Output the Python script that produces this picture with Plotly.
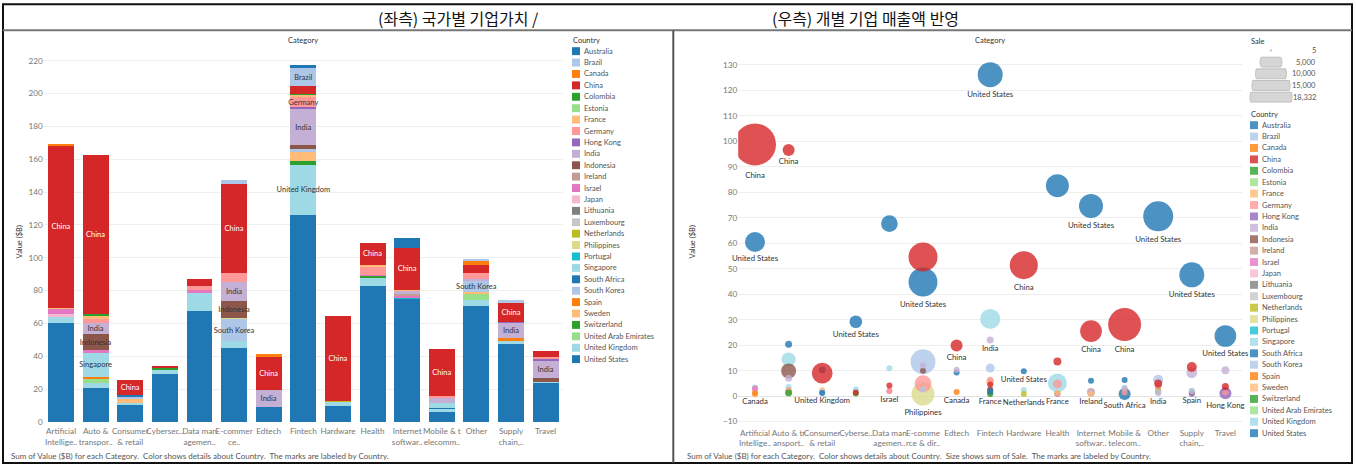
import math
import plotly.graph_objects as go

W, H = 1356, 470

categories = [
    "Artificial intelligence", "Auto & transportation", "Consumer & retail",
    "Cybersecurity", "Data management & analytics", "E-commerce & direct-to-consumer",
    "Edtech", "Fintech", "Hardware", "Health", "Internet software & services",
    "Mobile & telecommunications", "Other", "Supply chain, logistics, & delivery", "Travel",
]
bar_ticks = [
    "Artificial<br>Intellige..", "Auto &<br>transpor..", "Consumer<br>& retail", "Cybersec..",
    "Data man<br>agemen..", "E-commer<br>ce..", "Edtech", "Fintech", "Hardware", "Health",
    "Internet<br>softwar..", "Mobile & t<br>elecomm..", "Other", "Supply<br>chain,..", "Travel",
]
bubble_ticks = [
    "Artificial<br>Intellige..", "Auto & tr<br>ansport..", "Consumer<br>& retail", "Cyberse..",
    "Data man<br>agemen..", "E-comme<br>rce & dir..", "Edtech", "Fintech", "Hardware", "Health",
    "Internet<br>softwar..", "Mobile &<br>telecom..", "Other", "Supply<br>chain,..", "Travel",
]

countries = [
    "Australia", "Brazil", "Canada", "China", "Colombia", "Estonia", "France", "Germany",
    "Hong Kong", "India", "Indonesia", "Ireland", "Israel", "Japan", "Lithuania", "Luxembourg",
    "Netherlands", "Philippines", "Portugal", "Singapore", "South Africa", "South Korea",
    "Spain", "Sweden", "Switzerland", "United Arab Emirates", "United Kingdom", "United States",
]
country_colors = [
    "#1f77b4", "#aec7e8", "#ff7f0e", "#d62728", "#2ca02c", "#98df8a", "#ffbb78", "#ff9896",
    "#9467bd", "#c5b0d5", "#8c564b", "#c49c94", "#e377c2", "#f7b6d2", "#7f7f7f", "#c7c7c7",
    "#bcbd22", "#dbdb8d", "#17becf", "#9edae5", "#1f77b4", "#aec7e8", "#ff7f0e", "#ffbb78",
    "#2ca02c", "#98df8a", "#9edae5", "#1f77b4",
]

# (country, value $B, sale) per category
ai = [("United States", 60.5, 4160), ("United Kingdom", 3.4, 60), ("Japan", 2.0, 40),
      ("Israel", 3.0, 60), ("France", 0.6, 20), ("China", 98.8, 18332), ("Canada", 1.1, 150)]
auto = [("United States", 20.4, 510), ("United Kingdom", 3.6, 200), ("Spain", 1.6, 60),
        ("Singapore", 14.4, 2040), ("Israel", 1.6, 100), ("Indonesia", 9.9, 2340),
        ("India", 7.0, 510), ("Germany", 2.4, 150), ("France", 1.6, 80),
        ("United Arab Emirates", 2.0, 120), ("Colombia", 1.2, 500), ("China", 96.6, 1500)]
consumer = [("United States", 10.3, 500), ("United Kingdom", 1.4, 40), ("Sweden", 2.3, 60),
            ("South Korea", 1.5, 50), ("South Africa", 1.2, 370), ("China", 9.0, 4460)]
cyber = [("United States", 29.2, 1680), ("United Kingdom", 2.6, 60), ("Switzerland", 1.0, 60),
         ("China", 1.4, 80)]
data_mgmt = [("United States", 67.7, 2900), ("Singapore", 10.9, 20), ("Israel", 2.0, 60),
             ("Germany", 2.0, 40), ("China", 4.2, 200)]
ecommerce = [("United States", 44.8, 8700), ("United Kingdom", 4.4, 100), ("South Korea", 13.5, 6500),
             ("Philippines", 0.8, 5500), ("Indonesia", 10.0, 170), ("India", 12.0, 170),
             ("Germany", 4.9, 3000), ("China", 54.6, 8770), ("Brazil", 2.6, 60)]
edtech = [("United States", 9.3, 370), ("India", 10.4, 300), ("China", 19.9, 1500), ("Canada", 1.6, 40)]
fintech = [("United States", 126.2, 6500), ("United Kingdom", 30.3, 4200), ("Switzerland", 2.2, 374),
           ("Sweden", 5.6, 665), ("South Korea", 1.6, 100), ("Indonesia", 2.6, 60), ("India", 22.0, 510),
           ("Hong Kong", 1.0, 40), ("Germany", 6.4, 150), ("France", 1.1, 60), ("Colombia", 0.8, 40),
           ("China", 4.6, 100), ("Brazil", 11.0, 842), ("Australia", 1.8, 60)]
hardware = [("United States", 9.8, 374), ("United Kingdom", 2.4, 60), ("Netherlands", 0.8, 40),
            ("China", 51.4, 8150)]
health = [("United States", 82.6, 5500), ("United Kingdom", 5.2, 3750), ("Switzerland", 1.0, 40),
          ("Israel", 0.8, 40), ("Germany", 4.8, 842), ("France", 1.2, 60), ("China", 13.6, 665)]
internet = [("United States", 74.6, 6000), ("Portugal", 1.0, 40), ("Ireland", 1.6, 665),
            ("Israel", 1.0, 40), ("India", 1.6, 60), ("France", 0.8, 40), ("China", 25.5, 4900),
            ("Australia", 6.0, 260)]
mobile = [("United States", 6.3, 260), ("United Kingdom", 1.4, 40), ("South Africa", 0.8, 1500),
          ("Singapore", 3.2, 60), ("India", 3.0, 60), ("Germany", 1.4, 40), ("China", 28.1, 11300)]
other = [("United States", 70.6, 9350), ("United Kingdom", 3.6, 100), ("United Arab Emirates", 3.6, 100),
         ("Sweden", 1.4, 60), ("South Korea", 6.4, 1039), ("India", 1.2, 200), ("Germany", 4.0, 300),
         ("China", 5.0, 665), ("Canada", 2.0, 150), ("Brazil", 1.6, 60)]
supply = [("United States", 47.6, 6500), ("United Kingdom", 2.0, 374), ("Spain", 1.4, 60),
          ("India", 9.2, 1250), ("Hong Kong", 0.8, 40), ("China", 11.4, 1039), ("Brazil", 2.0, 60)]
travel = [("United States", 23.6, 4900), ("United Kingdom", 1.0, 40), ("Indonesia", 2.4, 60),
          ("India", 10.2, 665), ("Hong Kong", 1.1, 1500), ("Germany", 1.4, 60), ("China", 3.8, 509)]

by_category = [ai, auto, consumer, cyber, data_mgmt, ecommerce, edtech, fintech, hardware,
               health, internet, mobile, other, supply, travel]

# segments / bubbles that carry a country label
bar_labels = [
    (0, "China"), (1, "China"), (1, "India"), (1, "Indonesia"), (1, "Singapore"), (2, "China"),
    (5, "China"), (5, "India"), (5, "Indonesia"), (5, "South Korea"), (6, "China"), (6, "India"),
    (7, "United Kingdom"), (7, "India"), (7, "Germany"), (7, "Brazil"), (8, "China"), (9, "China"),
    (10, "China"), (11, "China"), (12, "South Korea"), (13, "China"), (13, "India"), (14, "India"),
]
bubble_labels = [
    (0, "China"), (0, "United States"), (0, "Canada"), (1, "China"), (2, "United Kingdom"),
    (3, "United States"), (4, "Israel"), (5, "United States"), (5, "Philippines"), (6, "China"),
    (6, "Canada"), (7, "United States"), (7, "India"), (7, "France"), (8, "China"),
    (8, "United States"), (8, "Netherlands"), (9, "France"), (10, "China"), (10, "Ireland"),
    (10, "United States"), (11, "China"), (11, "South Africa"), (12, "India"),
    (12, "United States"), (13, "Spain"), (13, "United States"), (14, "United States"),
    (14, "Hong Kong"),
]

FONT = "Lato, 'Open Sans', sans-serif"
MAX_SALE = 18332
MAX_DIAM = 42
SIZEREF = 2.0 * MAX_SALE / MAX_DIAM ** 2


def px(x):
    return x / W


def py(y):
    return 1 - y / H


fig = go.Figure()
label_traces = []

# stacking order: last legend entry sits at the bottom of each bar
for country in reversed(countries):
    color = country_colors[countries.index(country)]
    xs, ys, ss, btxt, stxt = [], [], [], [], []
    for ci, rows in enumerate(by_category):
        for name, val, sale in rows:
            if name == country:
                xs.append(categories[ci])
                ys.append(val)
                ss.append(sale)
                btxt.append(country if (ci, country) in bar_labels else "")
                stxt.append(country if (ci, country) in bubble_labels else "")
    if not xs:
        continue
    fig.add_trace(go.Bar(
        x=xs, y=ys, name=country, marker=dict(color=color, line=dict(width=0)),
        width=0.75, text=btxt, textposition="inside", insidetextanchor="middle",
        textangle=0, constraintext="none",
        textfont=dict(family=FONT, size=7.5, color="white" if country == "China" else "#333333"),
        xaxis="x", yaxis="y", showlegend=False, hoverinfo="x+y+name",
    ))
    fig.add_trace(go.Scatter(
        x=xs, y=ys, name=country, mode="markers",
        marker=dict(color=color, opacity=0.8, size=ss, sizemode="area",
                    sizeref=SIZEREF, sizemin=3, line=dict(width=0)),
        xaxis="x2", yaxis="y2", showlegend=False,
    ))
    if any(stxt):
        # labels sit under each bubble and may run past the pane edge
        label_traces.append(go.Scatter(
            x=xs, y=ys, mode="markers+text", text=stxt, textposition="bottom center",
            textfont=dict(family=FONT, size=7.8, color="#333333"),
            marker=dict(opacity=0, size=ss, sizemode="area", sizeref=SIZEREF, sizemin=3),
            cliponaxis=False, xaxis="x2", yaxis="y2", showlegend=False, hoverinfo="skip",
        ))

for tr in label_traces:
    fig.add_trace(tr)

tickfont = dict(family=FONT, size=8.2, color="#777777")
grid = "#eeeeee"

fig.update_layout(
    width=W, height=H, margin=dict(l=0, r=0, t=0, b=0),
    paper_bgcolor="white", plot_bgcolor="white", barmode="stack", showlegend=False,
    xaxis=dict(domain=[px(43.7), px(563)], type="category", categoryorder="array",
               categoryarray=categories, tickvals=categories, ticktext=bar_ticks, tickangle=0,
               range=[-0.5, 14.5], showgrid=False, ticks="", tickfont=tickfont,
               ticklabelstandoff=3, anchor="y", showline=False, zeroline=False),
    yaxis=dict(domain=[py(426.5), py(52)], range=[0, 225.6], tickvals=list(range(0, 221, 20)),
               gridcolor=grid, zeroline=False, ticks="", tickfont=tickfont, anchor="x"),
    xaxis2=dict(domain=[px(738.2), px(1242.2)], type="category", categoryorder="array",
                categoryarray=categories, tickvals=categories, ticktext=bubble_ticks, tickangle=0,
                range=[-0.5, 14.5], showgrid=False, ticks="", tickfont=tickfont,
                ticklabelstandoff=1, anchor="y2", zeroline=False),
    yaxis2=dict(domain=[py(430), py(52)], range=[-11.5, 135.3], tickvals=list(range(-10, 131, 10)),
                gridcolor=grid, zeroline=True, zerolinecolor="#e2e2e2", zerolinewidth=1,
                ticks="", tickfont=tickfont, anchor="x2"),
)

shapes = []
ann = []


def text(t, x, y, font, xanchor="center", **kw):
    ann.append(dict(text=t, x=px(x), y=py(y), xref="paper", yref="paper", showarrow=False,
                    xanchor=xanchor, yanchor="middle", borderpad=0, font=font, **kw))


# frame around the header row and the two panels
shapes.append(dict(type="rect", xref="paper", yref="paper", x0=px(3), x1=px(1352),
                   y0=py(468), y1=py(4.3), line=dict(color="#111111", width=2)))
shapes.append(dict(type="line", xref="paper", yref="paper", x0=px(3), x1=px(1352),
                   y0=py(30.7), y1=py(30.7), line=dict(color="#777777", width=2)))
shapes.append(dict(type="line", xref="paper", yref="paper", x0=px(673.3), x1=px(673.3),
                   y0=py(30.7), y1=py(468), line=dict(color="#555555", width=2)))

title_font = dict(family="Noto Sans CJK KR", size=16, color="#111111")
text("(좌측) 국가별 기업가치 /", 458, 18, title_font)
text("(우측) 개별 기업 매출액 반영", 866, 18, title_font)

small = dict(family=FONT, size=7.5, color="#333333")
cap = dict(family=FONT, size=8, color="#555555")
text("Category", 303, 41, small)
text("Category", 990, 41, small)
text("Value ($B)", 19, 245, small, textangle=-90)
text("Value ($B)", 692, 245, small, textangle=-90)
text("Sum of Value ($B) for each Category.  Color shows details about Country.  "
     "The marks are labeled by Country.", 10, 461, cap, xanchor="left")
text("Sum of Value ($B) for each Category.  Color shows details about Country.  "
     "Size shows sum of Sale.  The marks are labeled by Country.", 686, 461, cap, xanchor="left")

item_font = dict(family=FONT, size=7.5, color="#555555")


def legend(x0, y0, opacity):
    text("Country", x0, y0 - 11, small, xanchor="left")
    for i, (c, col) in enumerate(zip(countries, country_colors)):
        yc = y0 + 11.53 * i
        shapes.append(dict(type="rect", xref="paper", yref="paper", x0=px(x0), x1=px(x0 + 8),
                           y0=py(yc + 4), y1=py(yc - 4), fillcolor=col, opacity=opacity,
                           line=dict(width=0)))
        text(c, x0 + 11, yc, item_font, xanchor="left")


legend(572, 51.7, 1.0)
legend(1250, 126.5, 0.8)

# size legend: circles clipped to their row
text("Sale", 1250, 42, small, xanchor="left")
sale_steps = [5, 5000, 10000, 15000, 18332]
for i, s in enumerate(sale_steps):
    yc = 51 + 11.8 * i
    r = max(MAX_DIAM / 2 * math.sqrt(s / MAX_SALE), 0.8)
    h = min(r, 5.0)
    a = math.asin(h / r)
    pts = []
    n = 12
    for k in range(n + 1):
        t = -a + 2 * a * k / n
        pts.append((1271 + r * math.cos(t), yc + r * math.sin(t)))
    for k in range(n + 1):
        t = math.pi - a + 2 * a * k / n
        pts.append((1271 + r * math.cos(t), yc + r * math.sin(t)))
    path = "M " + " L ".join(f"{px(x):.5f},{py(y):.5f}" for x, y in pts) + " Z"
    shapes.append(dict(type="path", xref="paper", yref="paper", path=path,
                       fillcolor="#d6d6d6", line=dict(color="#b5b5b5", width=0.8)))
    text(f"{s:,}", 1317, yc, item_font, xanchor="right")

fig.update_layout(shapes=shapes, annotations=ann)
fig.write_html("out.html")
